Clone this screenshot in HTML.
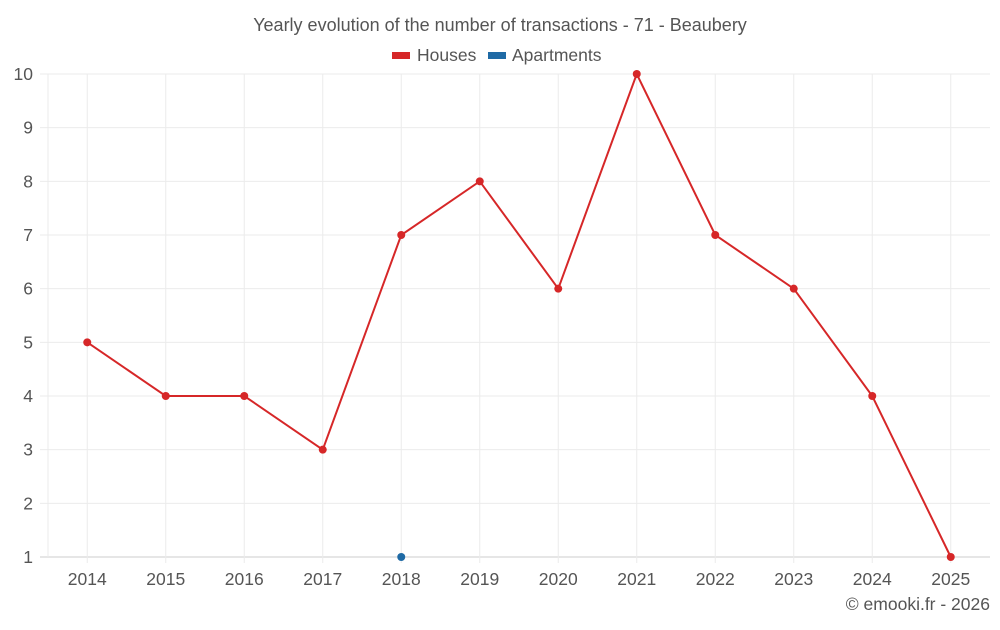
<!DOCTYPE html>
<html><head><meta charset="utf-8"><style>
body{margin:0;background:#fff;font-family:"Liberation Sans",sans-serif}
</style></head><body>
<svg width="1000" height="625" xmlns="http://www.w3.org/2000/svg">
<text x="500" y="31" text-anchor="middle" font-size="18" fill="#555">Yearly evolution of the number of transactions - 71 - Beaubery</text>
<g>
<rect x="392" y="52" width="18" height="7" fill="#d62728"/>
<text x="417" y="61" font-size="17.5" fill="#555">Houses</text>
<rect x="488" y="52" width="18" height="7" fill="#1f6aa5"/>
<text x="512" y="61" font-size="17.5" fill="#555">Apartments</text>
</g>
<g id="grid"></g><g id="axes"></g><g id="series"></g>
<text x="990" y="610" text-anchor="end" font-size="17.5" fill="#555">© emooki.fr - 2026</text>
</svg>
<script>
const years=[2014,2015,2016,2017,2018,2019,2020,2021,2022,2023,2024,2025];
const houses=[5,4,4,3,7,8,6,10,7,6,4,1];
const apartments=[null,null,null,null,1,null,null,null,null,null,null,null];
const yTicks=[1,2,3,4,5,6,7,8,9,10];
const NS="http://www.w3.org/2000/svg";
const L=48,R=990,T=74,B=557,band=(R-L)/years.length;
const x=i=>L+band*(i+0.5);
const y=v=>B-(v-1)*(B-T)/9;
function mk(tag,attrs,parent){const e=document.createElementNS(NS,tag);for(const k in attrs)e.setAttribute(k,attrs[k]);document.getElementById(parent).appendChild(e);return e;}
yTicks.forEach(v=>{
 let l=mk('line',{x1:40,x2:R,y1:y(v),y2:y(v),stroke:v===1?'#ccc':'#ebebeb'},'grid');
 
 
 let t=mk('text',{x:33,y:y(v)+6,'text-anchor':'end','font-size':17.5,fill:'#555'},'axes');t.textContent=v;
 
 
});
let g0=mk('line',{x1:L,x2:L,y1:T,y2:B,stroke:'#ebebeb'},'grid');


years.forEach((yr,i)=>{
 let l=mk('line',{x1:x(i),x2:x(i),y1:T,y2:B+6,stroke:'#ebebeb'},'grid');
 
 
 let t=mk('text',{x:x(i),y:585,'text-anchor':'middle','font-size':17.5,fill:'#555'},'axes');t.textContent=yr;
 
 
});
let pts=houses.map((v,i)=>v==null?null:x(i)+','+y(v)).filter(Boolean).join(' ');
let pl=mk('polyline',{points:pts,fill:'none',stroke:'#d62728','stroke-width':2},'series');


houses.forEach((v,i)=>{if(v==null)return;
 let c=mk('circle',{cx:x(i),cy:y(v),r:4,fill:'#d62728'},'series');
 
 
});
apartments.forEach((v,i)=>{if(v==null)return;
 let c=mk('circle',{cx:x(i),cy:y(v),r:4,fill:'#1f6aa5'},'series');
 
 
});
</script>
</body></html>
